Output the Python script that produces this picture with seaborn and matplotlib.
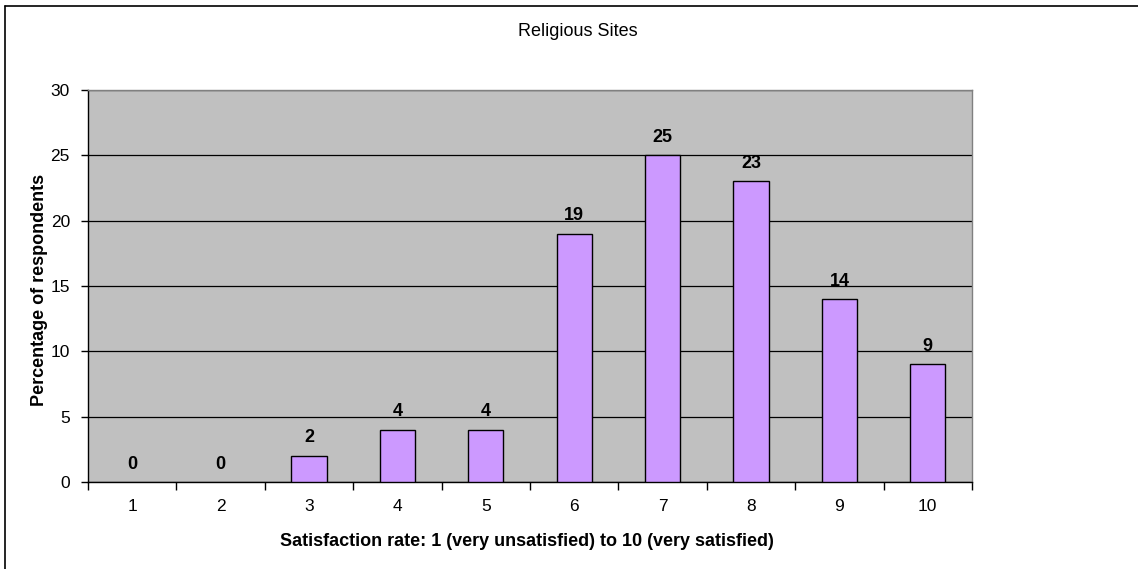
import matplotlib
matplotlib.use("Agg")
import matplotlib.pyplot as plt
from matplotlib.lines import Line2D
from matplotlib.ticker import FixedLocator
import seaborn as sns
import pandas as pd

# Survey results: share of respondents per satisfaction score
ratings = ["1", "2", "3", "4", "5", "6", "7", "8", "9", "10"]
percentages = [0, 0, 2, 4, 4, 19, 25, 23, 14, 9]

title = "Religious Sites"
x_label = "Satisfaction rate: 1 (very unsatisfied) to 10 (very satisfied)"
y_label = "Percentage of respondents"
y_ticks = [0, 5, 10, 15, 20, 25, 30]

sns.set_theme(style="white")
plt.rcParams["font.family"] = ["Liberation Sans", "DejaVu Sans"]

df = pd.DataFrame({"rating": ratings, "pct": percentages})

W, H = 1138, 569
fig = plt.figure(figsize=(W / 100, H / 100), dpi=100)
ax = fig.add_axes([88 / W, 1 - 482 / H, (972 - 88) / W, (482 - 90) / H])
ax.set_facecolor("#C0C0C0")

sns.barplot(data=df, x="rating", y="pct", order=ratings, color="#CC99FF",
            saturation=1, width=0.4, edgecolor="black", linewidth=1.0,
            ax=ax, zorder=3)

# Empty bars leave no outline on the baseline
for patch in ax.patches:
    if patch.get_height() == 0:
        patch.set_linewidth(0)

ax.set_xlim(-0.5, len(ratings) - 0.5)
ax.set_ylim(0, 30)
ax.set_yticks(y_ticks)
ax.yaxis.grid(True, color="black", linewidth=0.9, zorder=1)
ax.set_axisbelow(True)

# Category separators as minor ticks on the x axis
ax.xaxis.set_minor_locator(FixedLocator([i - 0.5 for i in range(len(ratings) + 1)]))
ax.tick_params(axis="x", which="major", length=0, pad=12, labelsize=12.5, colors="black")
ax.tick_params(axis="x", which="minor", bottom=True, length=6, width=1, color="black")
ax.tick_params(axis="y", which="major", left=True, length=5, width=1, pad=8,
               labelsize=12.5, colors="black")

for side in ("left", "bottom"):
    ax.spines[side].set_color("black")
    ax.spines[side].set_linewidth(1)
for side in ("top", "right"):
    ax.spines[side].set_color("#808080")
    ax.spines[side].set_linewidth(1)

# Value labels above each bar
for i, v in enumerate(percentages):
    ax.annotate(str(v), (i, v), xytext=(0, 9.7), textcoords="offset points",
                ha="center", va="baseline", fontsize=13, fontweight="bold",
                color="black")

ax.set_xlabel(x_label, fontsize=13, fontweight="bold", color="black")
ax.set_ylabel(y_label, fontsize=13, fontweight="bold", color="black")
ax.xaxis.set_label_coords((527 - 88) / (972 - 88), -(541 - 482) / (482 - 90))
ax.xaxis.label.set_va("center")
ax.yaxis.set_label_coords((39 - 88) / (972 - 88), (482 - 290) / (482 - 90))
ax.yaxis.label.set_va("center")

fig.text(578 / W, 1 - 31 / H, title, ha="center", va="center", fontsize=13,
         color="black")

# Frame lines along the top and left of the chart
fig.add_artist(Line2D([5 / W, 1], [1 - 6 / H, 1 - 6 / H], transform=fig.transFigure,
                      color="black", linewidth=1.2))
fig.add_artist(Line2D([5 / W, 5 / W], [0, 1 - 6 / H], transform=fig.transFigure,
                      color="black", linewidth=1.2))

fig.savefig("out.png", dpi=100)
